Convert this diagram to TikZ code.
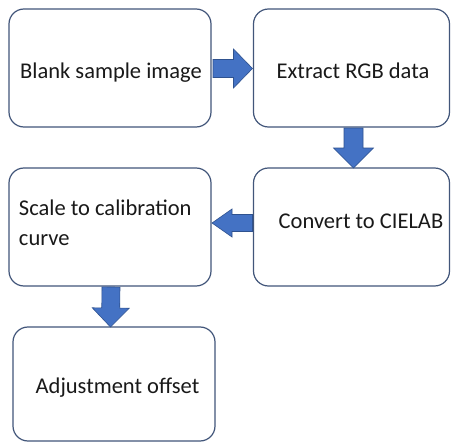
\documentclass[tikz,border=0pt]{standalone}
\usepackage{fontspec}
\setmainfont{Carlito}
\usetikzlibrary{calc}
\definecolor{boxline}{HTML}{42567A}
\definecolor{arrfill}{HTML}{4472C4}
\definecolor{arrline}{HTML}{2F528F}
\tikzset{
  stepbox/.style={draw=boxline, line width=1.2pt, rounded corners=15pt, fill=white,
    inner sep=0pt, outer sep=0pt},
  lbl/.style={inner sep=0pt, outer sep=0pt, font=\fontsize{22.5}{30}\selectfont, text=black!90},
  blockarr/.style={fill=arrfill, draw=arrline, line width=0.6pt, line join=miter}
}
% #1 start, #2 tip, #3 shaft half width, #4 head half width, #5 head length
\newcommand{\blockarrow}[5]{%
  \coordinate (ha) at ($(#2)!#5!(#1)$);
  \draw[blockarr] ($(#1)!#3!90:(#2)$) -- ($(ha)!#3!90:(#2)$) -- ($(ha)!#4!90:(#2)$)
    -- (#2) -- ($(ha)!#4!-90:(#2)$) -- ($(ha)!#3!-90:(#2)$) -- ($(#1)!#3!-90:(#2)$) -- cycle;
}
\begin{document}
\begin{tikzpicture}[x=1pt, y=-1pt]
\useasboundingbox (0,0) rectangle (451,442);
\fill[white] (0,0) rectangle (451,442);

\node[stepbox, minimum width=202pt, minimum height=118pt] (b1) at (110,68) {};
\node[stepbox, minimum width=196pt, minimum height=118pt] (b2) at (351.5,68) {};
\node[stepbox, minimum width=202pt, minimum height=118pt] (b3) at (110,227) {};
\node[stepbox, minimum width=196pt, minimum height=118pt] (b4) at (351.5,227) {};
\node[stepbox, minimum width=202pt, minimum height=114pt] (b5) at (114,384) {};

\node[lbl, anchor=base] (t1) at ($(b1.center)+(1,10)$) {Blank sample image};
\node[lbl, anchor=base] (t2) at ($(b2.center)+(1.5,10)$) {Extract RGB data};
\node[lbl, anchor=base west, align=left] (t3) at ($(b3.west)+(10,18)$) {Scale to calibration\\curve};
\node[lbl, anchor=base] (t4) at ($(b4.center)+(9.5,1)$) {Convert to CIELAB};
\node[lbl, anchor=base] (t5) at ($(b5.center)+(3.5,9)$) {Adjustment offset};

% connectors
\coordinate (a1s) at ($(b1.east)+(2,0.5)$);
\coordinate (a1e) at ($(b2.west)+(-1,0.5)$);
\blockarrow{a1s}{a1e}{9pt}{19.5pt}{19pt}

\coordinate (a2s) at ($(b2.south)+(2,1)$);
\coordinate (a2e) at ($(b4.north)+(2,0)$);
\blockarrow{a2s}{a2e}{9.5pt}{20pt}{20pt}

\coordinate (a3s) at ($(b4.west)+(-1,-4)$);
\coordinate (a3e) at ($(b3.east)+(1,-4)$);
\blockarrow{a3s}{a3e}{8.5pt}{14pt}{20pt}

\coordinate (a4s) at ($(b3.south)+(1,1)$);
\coordinate (a4e) at ($(b5.north)+(-3.5,0)$);
\blockarrow{a4s}{a4e}{9pt}{18.5pt}{19pt}
\end{tikzpicture}
\end{document}
